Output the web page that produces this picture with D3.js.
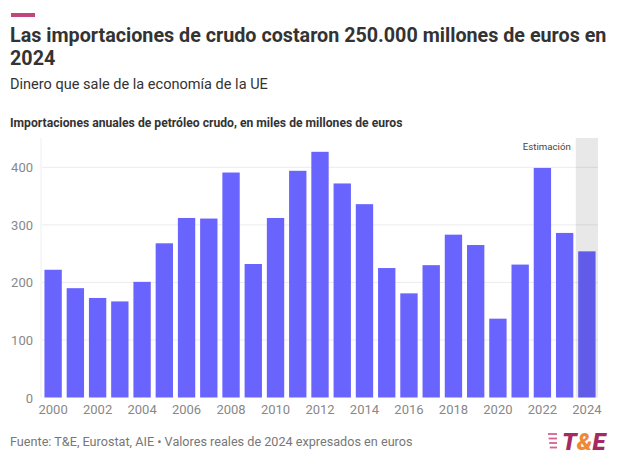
<!DOCTYPE html>
<html><head><meta charset="utf-8">
<script src="https://cdn.jsdelivr.net/npm/d3@7"></script>
<style>
body{margin:0;background:#fff;}
svg{display:block;font-family:Roboto, "Noto Sans", sans-serif;}
</style></head>
<body>
<svg id="c" width="620" height="464"></svg>
<script>
const years = [2000,2001,2002,2003,2004,2005,2006,2007,2008,2009,2010,2011,2012,2013,2014,2015,2016,2017,2018,2019,2020,2021,2022,2023,2024];
const values = [222,190,173,167,201,268,312,311,391,232,312,394,427,372,336,225,181,230,283,265,137,231,399,286,254];
const yTicks = [0,100,200,300,400];
const xTickYears = [2000,2002,2004,2006,2008,2010,2012,2014,2016,2018,2020,2022,2024];
const estimateYears = [2024];

const svg = d3.select("#c");
const pLeft = 42, pRight = 598, pTop = 138, pBottom = 397.5;

const x = d3.scaleBand().domain(years).range([pLeft, pRight]).paddingInner(0.22).paddingOuter(0.11);
const y = d3.scaleLinear().domain([0, 451]).range([pBottom, pTop]);

function fit(sel, w){ const n = sel.node(); const cur = n.getComputedTextLength(); const fs = +sel.attr("font-size"); sel.attr("font-size", fs*w/cur); return sel; }

// header
svg.append("rect").attr("x",11).attr("y",13).attr("width",24).attr("height",4).attr("fill","#c1467b");
const t1 = svg.append("text").attr("x",10).attr("y",42).attr("font-size",21).attr("font-weight",700).attr("fill","#333")
  .text("Las importaciones de crudo costaron 250.000 millones de euros en");
fit(t1, 597);
svg.append("text").attr("x",10).attr("y",65).attr("font-size",t1.attr("font-size")).attr("font-weight",700).attr("fill","#333")
  .text("2024");
fit(svg.append("text").attr("x",10).attr("y",89).attr("font-size",15).attr("fill","#333")
  .text("Dinero que sale de la economía de la UE"), 258);
fit(svg.append("text").attr("x",10).attr("y",127).attr("font-size",13).attr("font-weight",700).attr("fill","#333")
  .text("Importaciones anuales de petróleo crudo, en miles de millones de euros"), 393);

// grid
const g = svg.append("g");
g.selectAll("line.grid").data(yTicks.filter(d=>d>0)).join("line")
  .attr("x1",pLeft).attr("x2",pRight).attr("y1",d=>y(d)).attr("y2",d=>y(d))
  .attr("stroke","#ececec").attr("stroke-width",1);
g.append("line").attr("x1",pLeft-1).attr("x2",pLeft-1).attr("y1",pTop).attr("y2",pBottom)
  .attr("stroke","#eeeeee");

// bars
g.selectAll("rect.bar").data(years).join("rect")
  .attr("x",d=>x(d)).attr("width",x.bandwidth())
  .attr("y",(d,i)=>y(values[i])).attr("height",(d,i)=>pBottom-y(values[i]))
  .attr("fill","#6a64ff");

// estimate band overlay
estimateYears.forEach(yr=>{
  const bx = x(yr) - x.step()*x.paddingOuter();
  g.append("rect").attr("x",bx).attr("width",x.step()).attr("y",pTop).attr("height",pBottom-pTop)
    .attr("fill","rgba(0,0,0,0.09)");
  fit(g.append("text").attr("x",bx-5).attr("y",150).attr("text-anchor","end")
    .attr("font-size",11).attr("fill","#444").text("Estimación"), 48);
});

// y axis labels
const yAxis = d3.axisLeft(y).tickValues(yTicks).tickSize(0).tickPadding(0);
svg.append("g").attr("transform",`translate(33,0)`).call(yAxis)
  .call(s=>s.select(".domain").remove())
  .call(s=>s.selectAll("text").attr("font-size",13).attr("fill","#888").attr("font-family","Roboto, sans-serif").attr("dy","0.35em"));

// x axis labels
const xAxis = d3.axisBottom(x).tickValues(xTickYears).tickSize(0).tickPadding(0);
svg.append("g").attr("transform",`translate(0,405)`).call(xAxis)
  .call(s=>s.select(".domain").remove())
  .call(s=>s.selectAll("text").attr("font-size",13).attr("fill","#888").attr("font-family","Roboto, sans-serif").attr("dy","0.71em"));

// footer
fit(svg.append("text").attr("x",10).attr("y",446).attr("font-size",13).attr("fill","#777")
  .text("Fuente: T&E, Eurostat, AIE • Valores reales de 2024 expresados en euros"), 403);

// logo
const lg = svg.append("g");
[0,1,2,3].forEach(i=>{
  lg.append("line").attr("x1",548+i*0.6).attr("x2",557).attr("y1",434+i*4.5).attr("y2",434+i*4.5)
    .attr("stroke","#d9608f").attr("stroke-width",1.8);
});
const lt = lg.append("text").attr("x",562).attr("y",450).attr("font-size",24).attr("font-weight",900)
  .attr("font-style","italic").attr("font-family","Roboto, sans-serif");
lt.append("tspan").attr("fill","#a52a62").text("T");
lt.append("tspan").attr("fill","#f0883a").text("&");
lt.append("tspan").attr("fill","#a52a62").text("E");
</script>
</body></html>
